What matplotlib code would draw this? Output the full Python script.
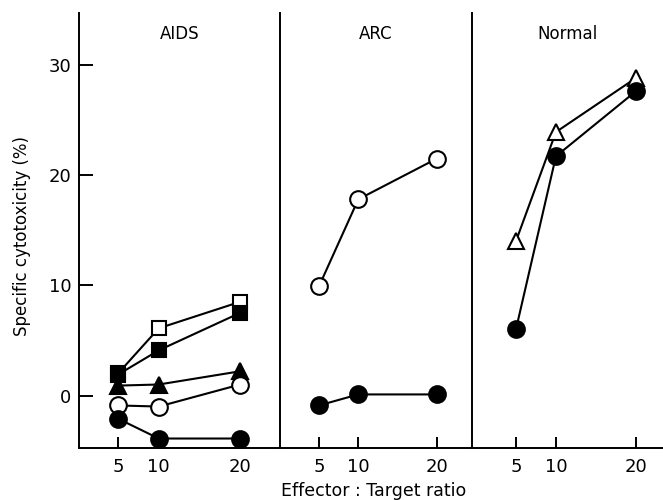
import matplotlib
matplotlib.use("Agg")
import matplotlib.pyplot as plt

plt.rcParams['font.family'] = ['DejaVu Sans']

ratio = [5, 10, 20]
panels = ['AIDS', 'ARC', 'Normal']

# AIDS patients
aids_open_sq = [2.0, 6.1, 8.5]
aids_fill_sq = [1.9, 4.1, 7.5]
aids_fill_tri = [0.9, 1.0, 2.2]
aids_open_circ = [-0.9, -1.0, 1.0]
aids_fill_circ = [-2.1, -3.9, -3.9]

# ARC patients
arc_open_circ = [9.9, 17.8, 21.5]
arc_fill_circ = [-0.9, 0.1, 0.1]

# normal donors
norm_open_tri = [14.0, 23.9, 28.8]
norm_fill_circ = [6.0, 21.7, 27.6]

W, H = 663, 500
fig = plt.figure(figsize=(W / 100, H / 100), dpi=100)

bottom, top = 448, 13
# left edge, right edge (px) and xlim for each panel
boxes = [(78.5, 280, (0.14, 24.9)),
         (280, 472, (0.05, 24.45)),
         (472, 663, (-0.5, 23.4))]
axes = []
for (x0, x1, xl) in boxes:
    ax = fig.add_axes([x0 / W, (H - bottom) / H, (x1 - x0) / W, (bottom - top) / H])
    ax.set_xlim(*xl)
    ax.set_ylim(-4.76, 34.7)
    for s in ['top', 'right']:
        ax.spines[s].set_visible(False)
    for s in ['left', 'bottom']:
        ax.spines[s].set_linewidth(1.4)
    ax.set_xticks(ratio)
    ax.set_xticklabels(['5', '10', '20'], fontsize=13)
    ax.tick_params(axis='x', direction='in', length=8, width=1.4, pad=7)
    ax.patch.set_alpha(0)
    axes.append(ax)

axes[0].set_yticks([0, 10, 20, 30])
axes[0].set_yticklabels(['0', '10', '20', '30'], fontsize=13)
axes[0].tick_params(axis='y', direction='in', length=10, width=1.4, pad=5)
for ax in axes[1:]:
    ax.set_yticks([])

for ax, name in zip(axes, panels):
    ax.text(0.5, 1 - 21 / (bottom - top), name, transform=ax.transAxes,
            ha='center', va='center', fontsize=12)

lw = 1.5
def line(ax, y, marker, fill, ms):
    ax.plot(ratio, y, color='black', lw=lw, marker=marker, ms=ms,
            mfc='black' if fill else 'white', mec='black', mew=1.5,
            clip_on=False, zorder=3)

a = axes[0]
line(a, aids_open_sq, 's', False, 10)
line(a, aids_fill_tri, '^', True, 11)
line(a, aids_fill_sq, 's', True, 10)
line(a, aids_open_circ, 'o', False, 12)
line(a, aids_fill_circ, 'o', True, 12)

line(axes[1], arc_open_circ, 'o', False, 12)
line(axes[1], arc_fill_circ, 'o', True, 12)

line(axes[2], norm_open_tri, '^', False, 12)
line(axes[2], norm_fill_circ, 'o', True, 12)

fig.text(22 / W, 1 - 236 / H, 'Specific cytotoxicity (%)', rotation=90,
         ha='center', va='center', fontsize=12)
fig.text(374 / W, 1 - 496 / H, 'Effector : Target ratio',
         ha='center', va='baseline', fontsize=12.5)

fig.savefig('out.png', dpi=100)
